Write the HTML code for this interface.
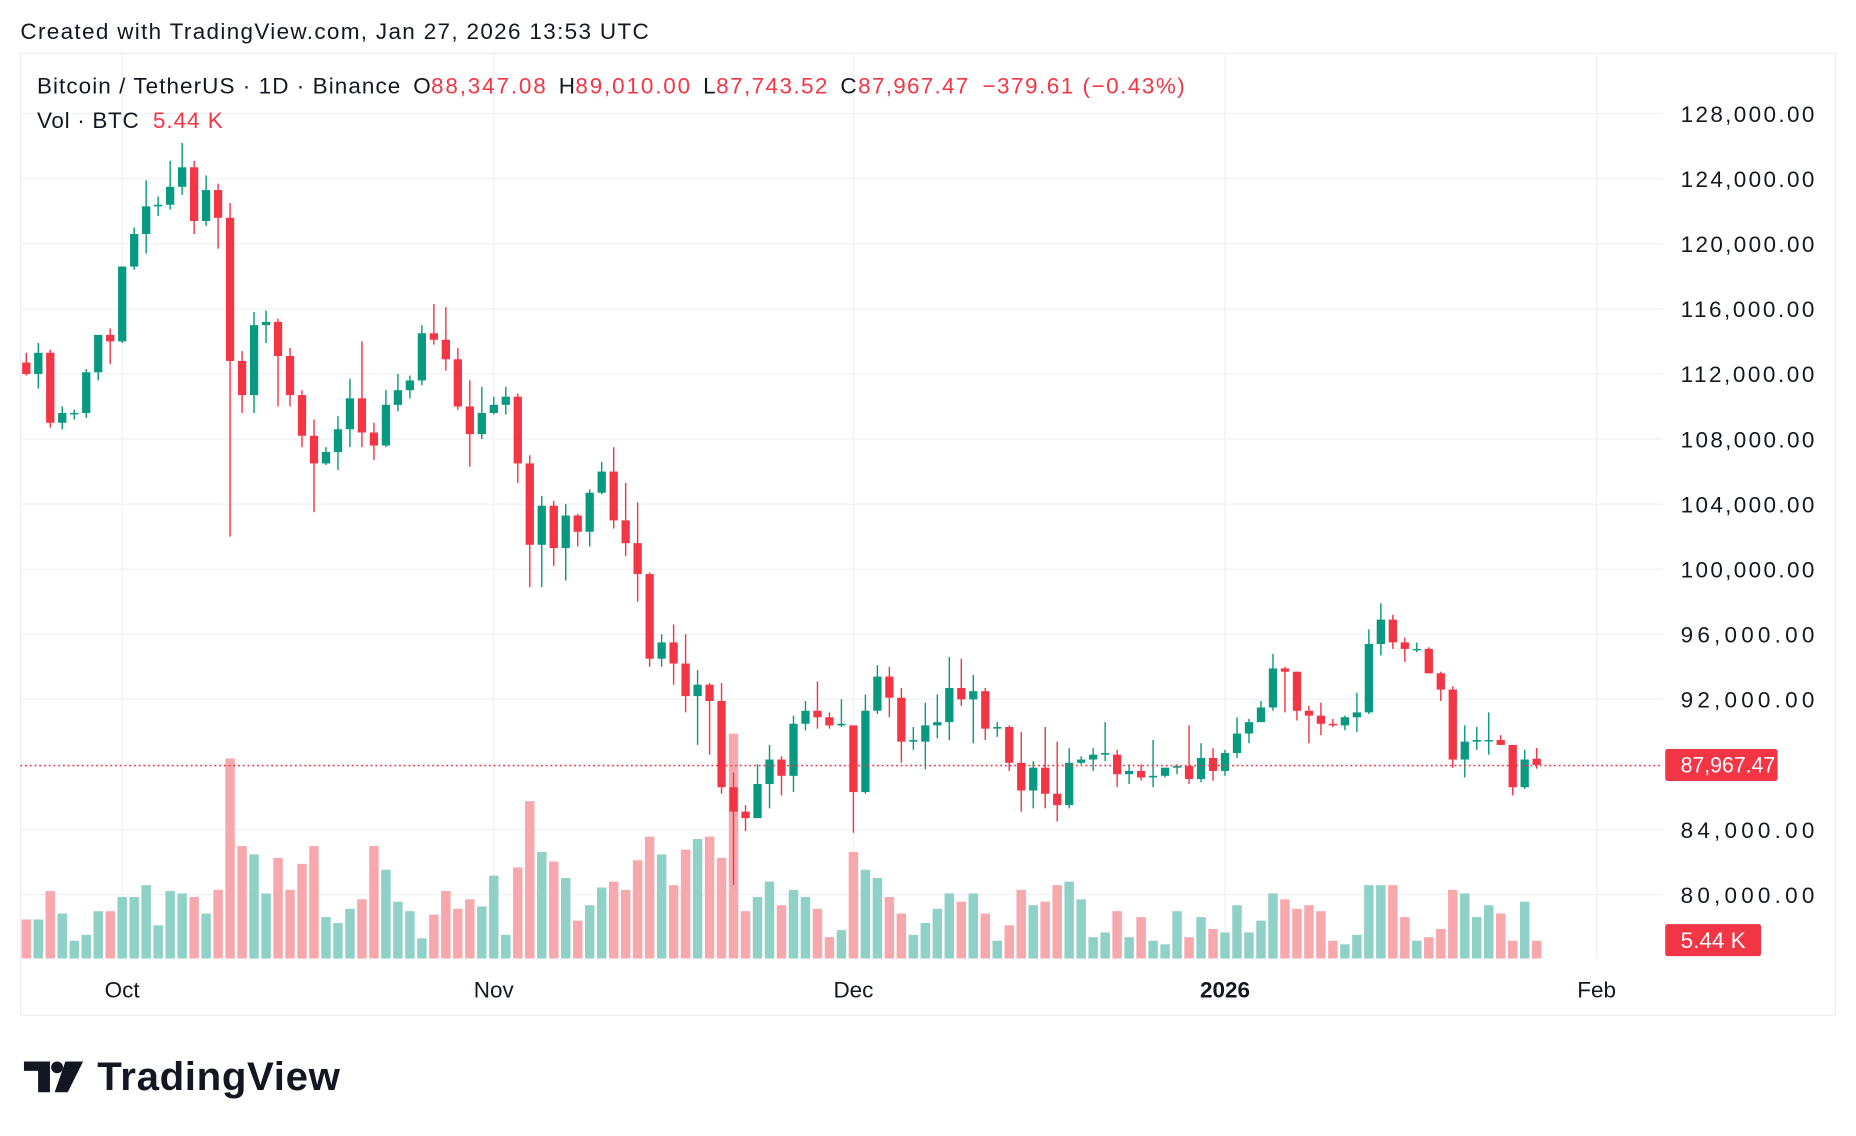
<!DOCTYPE html>
<html><head><meta charset="utf-8">
<style>
html,body{margin:0;padding:0;background:#fff;width:1856px;height:1136px;overflow:hidden}
svg{display:block}
text{font-family:"Liberation Sans",sans-serif}
</style></head><body>
<svg id="s" width="1856" height="1136" viewBox="0 0 1568 960" xmlns="http://www.w3.org/2000/svg">
<rect width="1568" height="960" fill="#fff"/>
<text x="17" y="33" font-size="19" fill="#131722" textLength="531" lengthAdjust="spacing">Created with TradingView.com, Jan 27, 2026 13:53 UTC</text>
<rect x="17" y="45" width="1534" height="813" fill="none" stroke="#eceef2" stroke-width="1"/>
<g id="grid" stroke="#f0f1f3" stroke-width="1"></g>
<g id="vol"></g>
<g id="cdl"></g>
<line x1="17" y1="647" x2="1405" y2="647" stroke="#F23645" stroke-width="1.2" stroke-dasharray="1.5,2.5"/>
<g id="axis" font-size="19" fill="#131722"></g>
<rect x="1407" y="633" width="95" height="27" rx="2" fill="#F23645"/>
<text x="1420" y="653" font-size="19" fill="#fff" textLength="80" lengthAdjust="spacingAndGlyphs">87,967.47</text>
<rect x="1407" y="781" width="81" height="27" rx="2" fill="#F23645"/>
<text x="1420" y="801" font-size="19" fill="#fff">5.44 K</text>
<g font-size="19">
<text x="31" y="79" fill="#131722" textLength="307" lengthAdjust="spacing">Bitcoin / TetherUS · 1D · Binance</text>
<text x="349" y="79" fill="#131722">O</text><text x="364" y="79" fill="#F23645" textLength="97" lengthAdjust="spacing">88,347.08</text>
<text x="472" y="79" fill="#131722">H</text><text x="486" y="79" fill="#F23645" textLength="97" lengthAdjust="spacing">89,010.00</text>
<text x="594" y="79" fill="#131722">L</text><text x="605" y="79" fill="#F23645" textLength="94" lengthAdjust="spacing">87,743.52</text>
<text x="710" y="79" fill="#131722">C</text><text x="725" y="79" fill="#F23645" textLength="93" lengthAdjust="spacing">87,967.47</text>
<text x="830" y="79" fill="#F23645" textLength="171" lengthAdjust="spacing">−379.61 (−0.43%)</text>
<text x="31" y="108" fill="#131722" textLength="86" lengthAdjust="spacing">Vol · BTC</text>
<text x="129" y="108" fill="#F23645" textLength="59" lengthAdjust="spacing">5.44 K</text>
</g>
<g font-size="19" fill="#131722">
<text x="103" y="843" text-anchor="middle">Oct</text>
<text x="417" y="843" text-anchor="middle">Nov</text>
<text x="721" y="843" text-anchor="middle">Dec</text>
<text x="1035" y="843" text-anchor="middle" font-weight="bold">2026</text>
<text x="1349" y="843" text-anchor="middle">Feb</text>
</g>
<g fill="#131722">
<path d="M20 897h22v26h-10v-18h-12z"/>
<circle cx="48" cy="902" r="5"/>
<path d="M55 897h15l-13 26h-11z"/>
<text x="82" y="921" font-size="34" font-weight="bold" textLength="205" lengthAdjust="spacing">TradingView</text>
</g>
</svg>
<script>
var D=[[112.7,113.3,111.9,112.0],[112.0,113.9,111.1,113.3],[113.3,113.5,108.7,109.0],[109.0,110.0,108.6,109.6],[109.6,109.8,109.2,109.6],[109.6,112.3,109.3,112.1],[112.1,114.4,111.6,114.4],[114.4,114.8,112.6,114.0],
[114.0,118.6,113.9,118.6],[118.6,121.0,118.4,120.6],[120.6,123.9,119.4,122.3],[122.3,122.9,121.7,122.4],[122.4,125.1,122.1,123.5],[123.5,126.2,123.0,124.7],[124.7,125.1,120.6,121.4],[121.4,124.2,121.1,123.3],[123.3,123.7,119.7,121.6],[121.6,122.5,102.0,112.8],[112.8,113.4,109.6,110.7],[110.7,115.8,109.6,115.0],[115.0,115.9,113.9,115.2],[115.2,115.4,110.0,113.1],[113.1,113.6,110.0,110.7],[110.7,111.0,107.5,108.2],[108.2,109.2,103.5,106.5],[106.5,107.5,106.4,107.2],[107.2,109.4,106.1,108.6],[108.6,111.7,107.5,110.5],[110.5,114.0,107.5,108.4],[108.4,109.0,106.7,107.6],[107.6,111.0,107.5,110.1],[110.1,112.0,109.7,111.0],[111.0,111.9,110.5,111.6],[111.6,115.0,111.3,114.5],[114.5,116.3,113.8,114.1],[114.1,116.1,112.2,112.9],[112.9,113.6,109.8,110.0],[110.0,111.6,106.3,108.3],[108.3,111.2,108.0,109.6],
[109.6,110.6,109.5,110.1],[110.1,111.2,109.5,110.6],[110.6,110.8,105.3,106.5],[106.5,107.0,98.9,101.5],[101.5,104.5,98.9,103.9],[103.9,104.2,100.2,101.3],[101.3,104.0,99.3,103.3],[103.3,103.4,101.4,102.3],[102.3,104.9,101.4,104.7],[104.7,106.6,104.6,106.0],[106.0,107.5,102.5,103.0],[103.0,105.3,100.8,101.6],[101.6,104.1,98.0,99.7],[99.7,99.8,94.0,94.5],[94.5,96.0,94.0,95.5],[95.5,96.6,92.9,94.2],[94.2,96.0,91.2,92.2],[92.2,93.8,89.2,92.9],[92.9,93.0,88.6,91.9],[91.9,93.0,86.2,86.6],[86.6,87.5,80.6,85.1],[85.1,85.5,83.9,84.7],[84.7,88.0,84.7,86.8],[86.8,89.2,85.3,88.3],[88.3,88.5,86.1,87.3],[87.3,91.0,86.3,90.5],[90.5,91.9,90.1,91.3],[91.3,93.1,90.2,90.9],[90.9,91.2,90.2,90.4],[90.4,92.0,90.3,90.5],
[90.4,90.4,83.8,86.3],[86.3,92.3,86.2,91.3],[91.3,94.1,91.1,93.4],[93.4,94.0,90.9,92.1],[92.1,92.7,88.1,89.4],[89.4,90.3,88.9,89.5],[89.4,91.8,87.7,90.4],[90.4,92.3,89.6,90.6],[90.6,94.6,89.5,92.7],[92.7,94.5,91.6,92.0],[92.0,93.5,89.3,92.5],[92.5,92.7,89.5,90.2],[90.2,90.6,89.7,90.3],[90.3,90.4,87.6,88.1],[88.1,90.0,85.1,86.4],[86.4,88.2,85.3,87.8],[87.8,90.3,85.3,86.2],[86.2,89.4,84.5,85.5],[85.5,89.0,85.3,88.1],[88.1,88.5,88.0,88.3],[88.3,89.0,87.6,88.6],[88.6,90.6,88.2,88.7],[88.6,88.9,86.6,87.4],[87.4,88.0,86.8,87.6],[87.6,88.0,87.0,87.2],[87.2,89.5,86.6,87.3],[87.3,87.8,87.2,87.8],[87.8,88.0,87.4,87.9],[87.9,90.4,86.8,87.1],[87.1,89.3,86.9,88.4],[88.4,89.0,87.0,87.6],
[87.6,88.9,87.3,88.7],[88.7,90.9,88.4,89.9],[89.9,90.8,89.3,90.6],[90.6,91.9,90.6,91.5],[91.5,94.8,91.3,93.9],[93.9,94.0,91.2,93.7],[93.7,93.7,90.7,91.3],[91.3,91.6,89.3,91.0],[91.0,91.8,89.8,90.5],[90.5,90.8,90.3,90.4],[90.4,91.0,90.1,90.9],[90.9,92.4,90.0,91.2],[91.2,96.3,91.1,95.4],[95.4,97.9,94.7,96.9],[96.9,97.2,95.1,95.5],[95.5,95.8,94.3,95.1],[95.1,95.5,94.9,95.1],[95.1,95.2,93.6,93.6],[93.6,93.7,91.9,92.6],[92.6,92.8,87.8,88.3],[88.3,90.4,87.2,89.4],[89.4,90.3,88.9,89.5],[89.5,91.2,88.6,89.5],[89.5,89.8,89.2,89.2],[89.2,89.2,86.1,86.6],[86.6,88.9,86.5,88.3],[88.35,89.01,87.74,87.97]];
var V=[33,33,57,38,15,20,40,40,
52,52,62,28,57,55,52,38,58,169,95,88,55,85,58,80,95,35,30,42,50,95,75,48,40,17,37,57,42,50,44,
70,20,77,133,90,82,68,32,45,60,65,58,83,103,88,62,92,101,103,85,190,40,52,65,45,58,52,42,18,24,
90,75,68,52,38,20,30,42,55,48,55,38,15,28,58,45,48,62,65,50,18,22,40,18,35,15,12,40,18,35,25,
22,45,22,32,55,50,42,45,40,15,12,20,62,62,62,35,15,18,25,58,55,35,45,38,15,48,15];
var NS="http://www.w3.org/2000/svg";
function el(t,a,p){var e=document.createElementNS(NS,t);for(var k in a)e.setAttribute(k,a[k]);p.appendChild(e);return e;}
function y(p){return 96+(128-p)/4*55;}
var g=document.getElementById('grid'),ax=document.getElementById('axis');
for(var p=80;p<=128;p+=4){var yy=y(p);el('line',{x1:17,x2:1405,y1:yy,y2:yy},g);if(p==88)continue;var t=el('text',{x:1420,y:yy+7,textLength:113,lengthAdjust:'spacing'},ax);t.textContent=p+',000.00';}
[103,417,721,1035,1349].forEach(function(x){el('line',{x1:x,x2:x,y1:45,y2:810},g);});
var vg=document.getElementById('vol'),cg=document.getElementById('cdl');
for(var i=0;i<D.length;i++){
 var d=D[i],x=1035+(i-100)*10.13;
 var up=d[3]>=d[0],c=up?'#089981':'#F23645';
 el('rect',{x:x-4,y:810-V[i],width:8,height:V[i],fill:up?'#8fd1c6':'#f7a8ad'},vg);
 el('line',{x1:x,x2:x,y1:y(d[1]),y2:y(d[2]),stroke:c,'stroke-width':1.2},cg);
 var t=y(Math.max(d[0],d[3])),b=y(Math.min(d[0],d[3]));
 el('rect',{x:x-3.5,y:t,width:7,height:Math.max(1.2,b-t),fill:c},cg);
}
</script>
</body></html>
